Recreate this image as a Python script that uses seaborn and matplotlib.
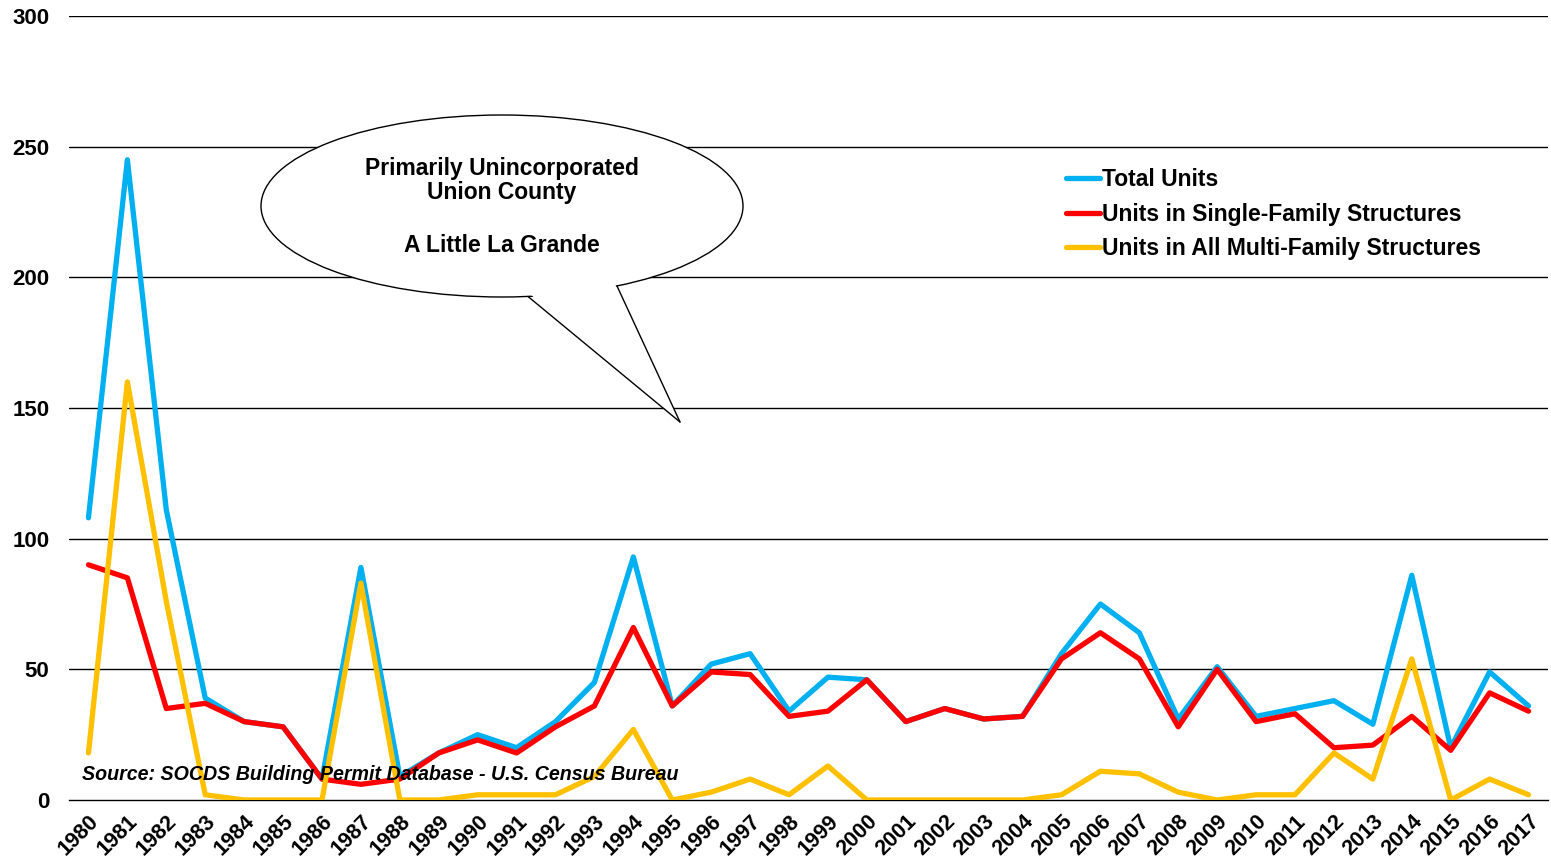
import numpy as np
import pandas as pd
import matplotlib
matplotlib.use("Agg")
import matplotlib.pyplot as plt
from matplotlib.patches import Ellipse, Polygon
import seaborn as sns

years = list(range(1980, 2018))

total_units = [108, 245, 111, 39, 30, 28, 8, 89, 9, 18,
               25, 20, 30, 45, 93, 36, 52, 56, 34, 47,
               46, 30, 35, 31, 32, 56, 75, 64, 31, 51,
               32, 35, 38, 29, 86, 20, 49, 36]
single_family = [90, 85, 35, 37, 30, 28, 8, 6, 8, 18,
                 23, 18, 28, 36, 66, 36, 49, 48, 32, 34,
                 46, 30, 35, 31, 32, 54, 64, 54, 28, 50,
                 30, 33, 20, 21, 32, 19, 41, 34]
multi_family = [18, 160, 76, 2, 0, 0, 0, 83, 0, 0,
                2, 2, 2, 9, 27, 0, 3, 8, 2, 13,
                0, 0, 0, 0, 0, 2, 11, 10, 3, 0,
                2, 2, 18, 8, 54, 0, 8, 2]

series_names = ["Total Units", "Units in Single-Family Structures",
                "Units in All Multi-Family Structures"]
series_colors = ["#00B0F0", "#FF0000", "#FFC000"]

df = pd.DataFrame({
    "year": years * 3,
    "units": total_units + single_family + multi_family,
    "series": [series_names[0]] * len(years) + [series_names[1]] * len(years)
              + [series_names[2]] * len(years),
})

sns.set_style("white")
plt.rcParams["font.family"] = ["Liberation Sans", "DejaVu Sans"]
plt.rcParams["font.weight"] = "bold"
plt.rcParams["text.color"] = "black"
plt.rcParams["xtick.color"] = "black"
plt.rcParams["ytick.color"] = "black"

fig = plt.figure(figsize=(15.51, 8.66), dpi=100)
ax = fig.add_axes([69 / 1551, 1 - 800 / 866, (1548 - 69) / 1551, (800 - 16) / 866])

# gridlines behind the lines
ax.set_ylim(0, 300)
ax.set_yticks(range(0, 301, 50))
for v in range(50, 301, 50):
    ax.axhline(v, color="black", lw=1.0, zorder=0)

sns.lineplot(data=df, x="year", y="units", hue="series", palette=series_colors,
             hue_order=series_names, linewidth=3.8, ax=ax, zorder=3)

ax.set_xlim(1979.5, 2017.5)
ax.set_xticks(years)
ax.set_xticklabels([str(y) for y in years], rotation=45, ha="right",
                   rotation_mode="anchor", fontsize=15.5, fontweight="bold")
ax.tick_params(axis="x", length=0, pad=8)
ax.tick_params(axis="y", length=0, pad=14)
for lbl in ax.get_yticklabels():
    lbl.set_fontsize(16)
    lbl.set_fontweight("bold")
ax.set_xlabel("")
ax.set_ylabel("")
for side in ["top", "right", "left"]:
    ax.spines[side].set_visible(False)
ax.spines["bottom"].set_color("black")
ax.spines["bottom"].set_linewidth(1.0)

leg = ax.legend(loc="upper left", bbox_to_anchor=((1055 - 69) / 1479, (800 - 157) / 784),
                frameon=False, fontsize=16.5, handlelength=1.45, handletextpad=0.1,
                labelspacing=0.5, borderpad=0)
for line in leg.get_lines():
    line.set_linewidth(3.8)
for t in leg.get_texts():
    t.set_fontweight("bold")
    t.set_color("black")

ax.text((82 - 69) / 1479, (800 - 775) / 784,
        "Source: SOCDS Building Permit Database - U.S. Census Bureau",
        transform=ax.transAxes, fontsize=14.1, fontweight="bold", style="italic",
        va="center", ha="left", color="black", zorder=5)

# speech-bubble callout
W, H = 1551, 866
def fx(x):
    return x / W
def fy(y):
    return 1 - y / H

tr = fig.transFigure
ell = Ellipse((fx(502), fy(206)), 482 / W, 182 / H, transform=tr,
              facecolor="white", edgecolor="black", lw=1.0, zorder=10)
fig.add_artist(ell)
tail = Polygon([(fx(530), fy(294)), (fx(680), fy(422)), (fx(615), fy(284))],
               closed=True, transform=tr, facecolor="white", edgecolor="none", zorder=11)
fig.add_artist(tail)
for bx, by in [(528, 296.5), (617, 286)]:
    fig.add_artist(plt.Line2D([fx(bx), fx(680)], [fy(by), fy(422)], transform=tr,
                              color="black", lw=1.0, zorder=12))
fig.text(fx(502), fy(180.5), "Primarily Unincorporated\nUnion County",
         ha="center", va="center", fontsize=16.5, fontweight="bold",
         linespacing=1.1, color="black", zorder=13)
fig.text(fx(502), fy(246), "A Little La Grande",
         ha="center", va="center", fontsize=16.5, fontweight="bold",
         color="black", zorder=13)

fig.savefig("out.png", dpi=100)
